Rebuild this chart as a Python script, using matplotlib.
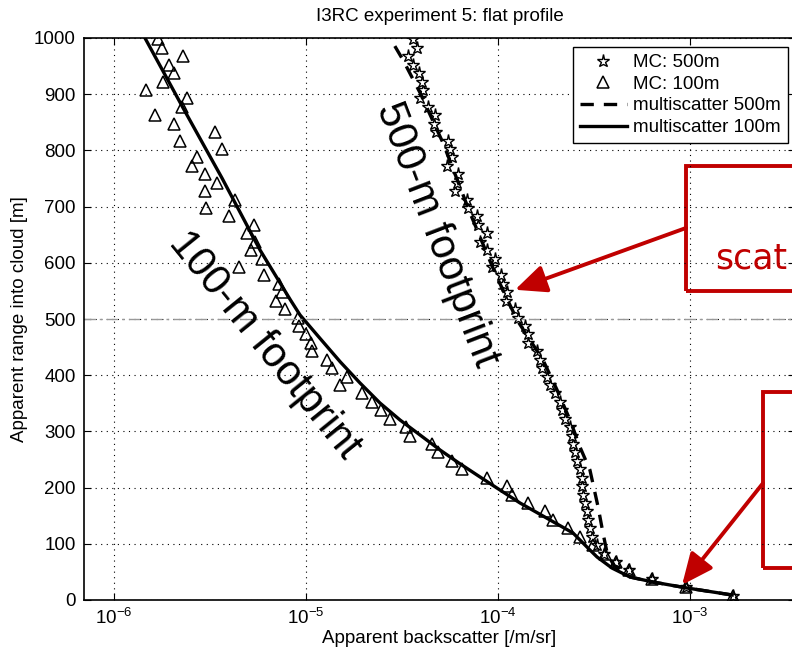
import matplotlib
matplotlib.use("Agg")
import matplotlib.pyplot as plt
from matplotlib.patches import Rectangle

plt.rcParams['font.family'] = ['Liberation Sans', 'DejaVu Sans']
plt.rcParams['mathtext.fontset'] = 'custom'
plt.rcParams['mathtext.rm'] = 'Liberation Sans'

# apparent range bins [m], shared by both Monte Carlo runs
mc_range = [7.5, 22.5, 37.5, 52.5, 67.5, 82.5, 97.5, 112.5, 127.5, 142.5,
            157.5, 172.5, 187.5, 202.5, 217.5, 232.5, 247.5, 262.5, 277.5,
            292.5, 307.5, 322.5, 337.5, 352.5, 367.5, 382.5, 397.5, 412.5,
            427.5, 442.5, 457.5, 472.5, 487.5, 502.5, 517.5, 532.5, 547.5,
            562.5, 577.5, 592.5, 607.5, 622.5, 637.5, 652.5, 667.5, 682.5,
            697.5, 712.5, 727.5, 742.5, 757.5, 772.5, 787.5, 802.5, 817.5,
            832.5, 847.5, 862.5, 877.5, 892.5, 907.5, 922.5, 937.5, 952.5,
            967.5, 982.5, 997.5]

# MC 500 m footprint (stars)
mc500 = [1.675e-3, 9.53e-4, 6.34e-4, 4.81e-4, 4.12e-4, 3.565e-4, 3.278e-4,
         3.087e-4, 3.014e-4, 2.943e-4, 2.907e-4, 2.838e-4, 2.771e-4, 2.74e-4,
         2.738e-4, 2.673e-4, 2.579e-4, 2.518e-4, 2.458e-4, 2.428e-4, 2.371e-4,
         2.233e-4, 2.154e-4, 2.104e-4, 1.982e-4, 1.866e-4, 1.799e-4, 1.694e-4,
         1.654e-4, 1.596e-4, 1.433e-4, 1.433e-4, 1.382e-4, 1.271e-4, 1.226e-4,
         1.101e-4, 1.114e-4, 1.062e-4, 1.037e-4, 9.307e-5, 9.64e-5, 8.76e-5,
         8.06e-5, 8.76e-5, 7.868e-5, 7.774e-5, 6.978e-5, 6.894e-5, 5.97e-5,
         6.116e-5, 6.19e-5, 5.425e-5, 5.76e-5, 5.623e-5, 5.49e-5, 4.754e-5,
         4.642e-5, 4.698e-5, 4.318e-5, 3.925e-5, 4.067e-5, 4.019e-5, 3.877e-5,
         3.61e-5, 3.398e-5, 3.785e-5, 3.608e-5]

# MC 100 m footprint (triangles)
mc100 = [1.675e-3, 9.53e-4, 6.339e-4, 4.812e-4, 4.117e-4, 3.608e-4, 3.125e-4,
         2.673e-4, 2.315e-4, 1.934e-4, 1.757e-4, 1.433e-4, 1.183e-4, 1.114e-4,
         8.763e-5, 6.494e-5, 5.76e-5, 4.87e-5, 4.532e-5, 3.481e-5, 3.318e-5,
         2.738e-5, 2.458e-5, 2.207e-5, 1.957e-5, 1.503e-5, 1.635e-5, 1.365e-5,
         1.286e-5, 1.075e-5, 1.062e-5, 1.0e-5, 9.2e-6, 9.09e-6, 7.77e-6,
         6.98e-6, 7.5e-6, 7.23e-6, 6.04e-6, 4.48e-6, 5.9e-6, 5.17e-6, 5.42e-6,
         4.93e-6, 5.36e-6, 3.97e-6, 3.01e-6, 4.27e-6, 2.98e-6, 3.44e-6,
         2.98e-6, 2.55e-6, 2.71e-6, 3.65e-6, 2.21e-6, 3.36e-6, 2.05e-6,
         1.64e-6, 2.26e-6, 2.4e-6, 1.47e-6, 1.8e-6, 2.05e-6, 1.93e-6, 2.29e-6,
         1.78e-6, 1.7e-6]

# multiscatter model, 500 m footprint
ms500_range = [8.9, 21.4, 32.0, 40.9, 62.3, 83.6, 119.2, 165.5, 231.3, 272.3,
               320.3, 373.7, 427.0, 498.2, 581.9, 688.6, 813.2, 902.2, 960.9,
               1000.0]
ms500 = [1.656e-3, 9.64e-4, 6.41e-4, 4.87e-4, 4.0e-4, 3.70e-4, 3.52e-4,
         3.32e-4, 3.01e-4, 2.67e-4, 2.37e-4, 2.03e-4, 1.715e-4, 1.256e-4,
         9.64e-5, 7.15e-5, 5.17e-5, 3.93e-5, 3.20e-5, 2.74e-5]

# multiscatter model, 100 m footprint
ms100_range = [8.9, 21.4, 32.0, 40.9, 56.9, 76.5, 89.0, 119.2, 172.6, 195.7,
               218.9, 243.8, 266.9, 293.6, 320.3, 350.5, 386.1, 423.5, 468.0,
               507.1, 533.8, 622.8, 750.9, 875.5, 1000.0]
ms100 = [1.656e-3, 9.64e-4, 6.41e-4, 4.87e-4, 3.92e-4, 3.28e-4, 3.01e-4,
         2.458e-4, 1.302e-4, 1.024e-4, 8.06e-5, 6.25e-5, 4.99e-5, 3.925e-5,
         3.087e-5, 2.428e-5, 1.911e-5, 1.51e-5, 1.166e-5, 9.31e-6, 8.3e-6,
         5.76e-6, 3.65e-6, 2.29e-6, 1.45e-6]

red = '#c00000'
fs = 13.5

fig = plt.figure(figsize=(7.92, 6.55), dpi=100)
ax = fig.add_axes([84/792, 55/655, 711/792, 562/655])

ax.plot(mc500, mc_range, linestyle='none', marker='*', ms=9.5, mfc='white',
        mec='black', mew=1.0, label='MC: 500m')
ax.plot(mc100, mc_range, linestyle='none', marker='^', ms=8.5, mfc='none',
        mec='black', mew=1.1, label='MC: 100m')
ax.plot(ms500, ms500_range, 'k--', lw=2.4, dashes=(4, 3),
        label='multiscatter 500m')
ax.plot(ms100, ms100_range, 'k-', lw=2.4, label='multiscatter 100m')

ax.axhline(500, color='#999999', lw=1.0, dashes=(8, 3, 2, 3))

ax.set_xscale('log')
ax.set_xlim(6.98e-7, 3.52e-3)
ax.set_ylim(0, 1000)
ax.set_yticks(range(0, 1001, 100))
ax.set_xticks([1e-6, 1e-5, 1e-4, 1e-3])
ax.minorticks_off()
ax.tick_params(direction='in', length=5, top=True, right=True,
               labelsize=fs, pad=6)
ax.grid(True, linestyle=(0, (1, 4)), color='black', lw=0.8)
for s in ax.spines.values():
    s.set_linewidth(1.2)

ax.set_xlabel('Apparent backscatter [/m/sr]', fontsize=fs, labelpad=1)
ax.set_ylabel('Apparent range into cloud [m]', fontsize=fs, labelpad=4)
ax.set_title('I3RC experiment 5: flat profile', fontsize=fs, pad=12)

ax.legend(loc='upper right', bbox_to_anchor=(788/792, (655-47)/655),
          bbox_transform=fig.transFigure, fontsize=fs, fancybox=False,
          edgecolor='black', framealpha=1, borderaxespad=0,
          handlelength=2.5, labelspacing=0.24, borderpad=0.38,
          handletextpad=0.35)

ax.text(6.11e-6, 454, '100-m footprint', rotation=-51, fontsize=30,
        ha='center', va='center', rotation_mode='anchor')
ax.text(4.8e-5, 650, '500-m footprint', rotation=-69, fontsize=30,
        ha='center', va='center', rotation_mode='anchor')

# red call-out boxes and arrows
ax.add_patch(Rectangle((9.53e-4, 550), 1e-2, 222, fill=False,
                       ec=red, lw=2.8, clip_on=False))
ax.add_patch(Rectangle((2.40e-3, 57), 1e-2, 313, fill=False,
                       ec=red, lw=2.8, clip_on=False))
ax.text(1.35e-3, 589, 'scat', color=red, fontsize=25,
        family=['DejaVu Sans'], ha='left', va='baseline')
arrow = dict(arrowstyle='-|>,head_length=1.9,head_width=0.85',
             color=red, lw=2.8, shrinkA=0, shrinkB=0)
ax.annotate('', xy=(1.226e-4, 552), xytext=(9.53e-4, 662),
            arrowprops=arrow, annotation_clip=False)
ax.annotate('', xy=(9.09e-4, 27), xytext=(2.40e-3, 208),
            arrowprops=arrow, annotation_clip=False)

fig.savefig('out.png', dpi=100)
